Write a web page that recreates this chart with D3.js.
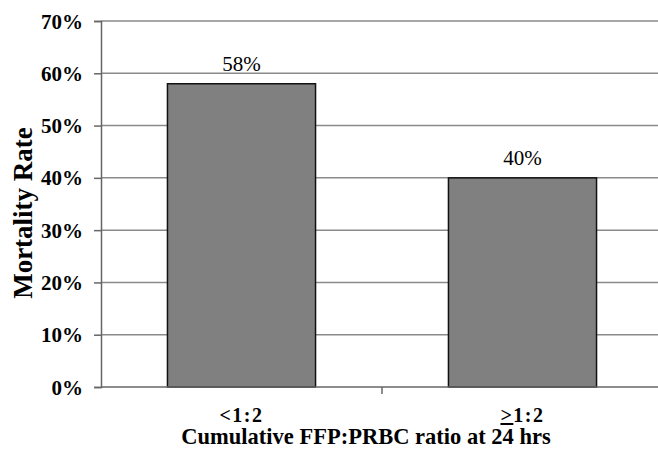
<!DOCTYPE html>
<html><head><meta charset="utf-8">
<script src="https://cdn.jsdelivr.net/npm/d3@7"></script>
<style>body{margin:0;background:#fff}svg{display:block}text{font-family:"Liberation Serif","Times New Roman",serif}</style>
</head><body>
<script>
const categories = ["<1:2", ">1:2"];
const mortality = [58, 40];
const yTicks = [0, 10, 20, 30, 40, 50, 60, 70];
const xTitle = "Cumulative FFP:PRBC ratio at 24 hrs";
const yTitle = "Mortality Rate";

const W = 658, H = 449;
const m = {left: 101, right: -5, top: 21, bottom: 62};
const svg = d3.select("body").append("svg").attr("width", W).attr("height", H);

const x = d3.scaleBand().domain(categories).range([m.left, W - m.right]).paddingInner(0.473).paddingOuter(0.2365);
const y = d3.scaleLinear().domain([0, 70]).range([H - m.bottom, m.top]);

// gridlines
svg.append("g").selectAll("line").data(yTicks.filter(d => d > 0)).join("line")
  .attr("x1", m.left).attr("x2", W).attr("y1", d => y(d)).attr("y2", d => y(d))
  .attr("stroke", "#8a8a8a").attr("stroke-width", 1.5);

// y axis
const yAxis = svg.append("g").attr("transform", `translate(${m.left},0)`)
  .call(d3.axisLeft(y).tickValues(yTicks).tickSize(7).tickPadding(11).tickFormat(d => d + "%"));
yAxis.select(".domain").attr("stroke", "#666").attr("stroke-width", 1.5);
yAxis.selectAll(".tick line").attr("stroke", "#666").attr("stroke-width", 1.5);
yAxis.selectAll(".tick text").attr("font-size", 21).attr("font-weight", "bold").attr("fill", "#000")
  .attr("font-family", "Liberation Serif").attr("dy", "0.34em");

// bars
svg.append("g").selectAll("rect").data(mortality).join("rect")
  .attr("x", (d, i) => x(categories[i])).attr("width", x.bandwidth())
  .attr("y", d => y(d)).attr("height", d => y(0) - y(d))
  .attr("fill", "#808080").attr("stroke", "#111").attr("stroke-width", 1.5);

// value labels
svg.append("g").selectAll("text").data(mortality).join("text")
  .attr("x", (d, i) => x(categories[i]) + x.bandwidth() / 2)
  .attr("y", d => y(d) - 13).attr("text-anchor", "middle")
  .attr("font-size", 21).text(d => d + "%");

// x axis baseline
const xAxisG = svg.append("g").attr("transform", `translate(0,${y(0)})`);
const midX = (x(categories[0]) + x.bandwidth() + x(categories[1])) / 2;
xAxisG.append("line").attr("x1", m.left).attr("x2", W).attr("stroke", "#666").attr("stroke-width", 1.5);
xAxisG.append("line").attr("x1", midX).attr("x2", midX)
  .attr("y1", 0).attr("y2", 7).attr("stroke", "#666").attr("stroke-width", 1.5);

// category labels
const cl = svg.append("g").selectAll("text").data(categories).join("text")
  .attr("x", d => x(d) + x.bandwidth() / 2).attr("y", y(0) + 35)
  .attr("text-anchor", "middle").attr("font-size", 20).attr("font-weight", "bold")
  .attr("letter-spacing", 1.5);
cl.each(function(d) {
  const t = d3.select(this);
  if (d.startsWith(">")) {
    t.append("tspan").attr("text-decoration", "underline").text(">");
    t.append("tspan").text(d.slice(1));
  } else t.text(d);
});

// axis titles
svg.append("text").attr("x", 366).attr("y", 444).attr("text-anchor", "middle")
  .attr("font-size", 22.5).attr("font-weight", "bold").text(xTitle);
svg.append("text").attr("transform", "translate(32,213) rotate(-90)").attr("text-anchor", "middle")
  .attr("font-size", 27).attr("font-weight", "bold").text(yTitle);
</script>
</body></html>
